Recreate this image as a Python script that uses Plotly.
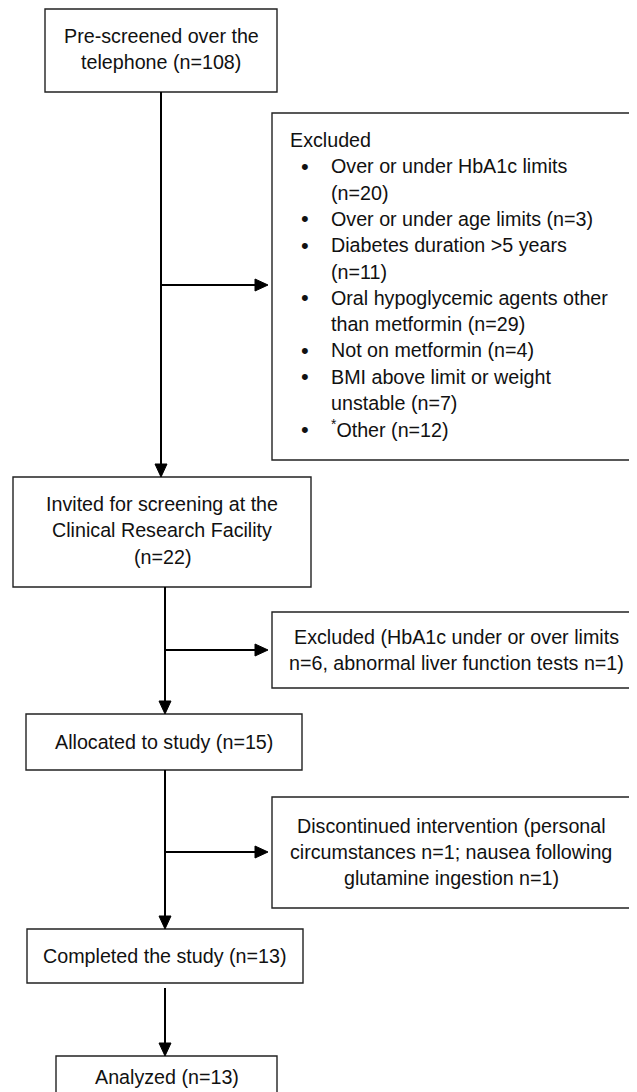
import plotly.graph_objects as go

# ---- data (text content and counts) ----
stage_labels = [
    ["Pre-screened over the", "telephone (n={})"],
    ["Invited for screening at the", "Clinical Research Facility", "(n={})"],
    ["Allocated to study (n={})"],
    ["Completed the study (n={})"],
    ["Analyzed (n={})"],
]
stage_counts = [108, 22, 15, 13, 13]

excl1_header = "Excluded"
excl1_items = [
    ["Over or under HbA1c limits", "(n={})"],
    ["Over or under age limits (n={})"],
    ["Diabetes duration >5 years", "(n={})"],
    ["Oral hypoglycemic agents other", "than metformin (n={})"],
    ["Not on metformin (n={})"],
    ["BMI above limit or weight", "unstable (n={})"],
    ["<sup>*</sup>Other (n={})"],
]
excl1_counts = [20, 3, 11, 29, 4, 7, 12]

excl2_lines = ["Excluded (HbA1c under or over limits", "n={}, abnormal liver function tests n={})"]
excl2_counts = [6, 1]

disc_lines = ["Discontinued intervention (personal", "circumstances n={}; nausea following", "glutamine ingestion n={})"]
disc_counts = [1, 1]

# ---- layout geometry (screen pixels, y downwards) ----
W, H = 637, 1092
OFF = 8  # page body margin
stage_boxes = [  # x0, x1, y0, y1
    (45, 277, 9, 92),
    (13, 311, 477, 587),
    (26, 302, 714, 770),
    (27, 303, 929, 983),
    (56, 277, 1056, 1110),
]
stage_text_y = [[36, 62], [504, 530, 557], [742], [956], [1077]]
excl1_box = (272, 636, 113, 460)
excl2_box = (272, 635, 612, 688)
disc_box = (272, 635, 797, 908)

FONT = dict(family="Liberation Sans, Arial, sans-serif", size=19.7, color="#111111")
LINE = 26.3

fig = go.Figure()
shapes = []
annots = []


def add_box(b):
    x0, x1, y0, y1 = b
    shapes.append(dict(type="rect", xref="x", yref="y", x0=x0, x1=x1, y0=y0, y1=y1,
                       line=dict(color="#222222", width=1.4), fillcolor="white", layer="above"))


def add_text(x, y, t, anchor="center", size=None):
    f = dict(FONT)
    if size:
        f["size"] = size
    annots.append(dict(x=x, y=y, xref="x", yref="y", text=t, showarrow=False,
                       xanchor=anchor, yanchor="middle", font=f))


def add_line(x0, y0, x1, y1):
    shapes.append(dict(type="line", xref="x", yref="y", x0=x0, y0=y0, x1=x1, y1=y1,
                       line=dict(color="black", width=2)))


def arrow_down(x, y_tip):
    shapes.append(dict(type="path", xref="x", yref="y",
                       path=f"M {x-6} {y_tip-13} L {x+6} {y_tip-13} L {x} {y_tip} Z",
                       fillcolor="black", line=dict(color="black", width=1)))


def arrow_right(x_tip, y):
    shapes.append(dict(type="path", xref="x", yref="y",
                       path=f"M {x_tip-13} {y-6} L {x_tip-13} {y+6} L {x_tip} {y} Z",
                       fillcolor="black", line=dict(color="black", width=1)))


# stage boxes
for lines, n, b, ys in zip(stage_labels, stage_counts, stage_boxes, stage_text_y):
    add_box(b)
    cx = (b[0] + b[1]) / 2
    for ln, y in zip(lines, ys):
        add_text(cx, y, ln.format(n) if "{}" in ln else ln)

# exclusion box 1 with bullets
add_box(excl1_box)
y = 140
add_text(288, y, excl1_header, "left")
for item, n in zip(excl1_items, excl1_counts):
    for i, ln in enumerate(item):
        y += LINE
        if i == 0:
            add_text(305, y, "•", "center", size=22)
        add_text(329, y, ln.format(n) if "{}" in ln else ln, "left")

# exclusion box 2
add_box(excl2_box)
add_text(456, 637, excl2_lines[0])
add_text(456, 663, excl2_lines[1].format(*excl2_counts))

# discontinued box
add_box(disc_box)
add_text(451, 826, disc_lines[0])
add_text(451, 852, disc_lines[1].format(disc_counts[0]))
add_text(451, 878, disc_lines[2].format(disc_counts[1]))

# connectors
add_line(161, 92, 161, 466)
arrow_down(161, 477)
add_line(161, 285, 256, 285)
arrow_right(268, 285)

add_line(165, 587, 165, 703)
arrow_down(165, 714)
add_line(165, 650, 256, 650)
arrow_right(268, 650)

add_line(165, 770, 165, 918)
arrow_down(165, 929)
add_line(165, 852, 256, 852)
arrow_right(268, 852)

add_line(165, 988, 165, 1045)
arrow_down(165, 1056)

fig.update_layout(
    width=W - OFF, height=H - OFF,
    margin=dict(l=0, r=0, t=0, b=0),
    paper_bgcolor="white", plot_bgcolor="white",
    xaxis=dict(range=[OFF, W], visible=False, fixedrange=True),
    yaxis=dict(range=[H, OFF], visible=False, fixedrange=True),
    shapes=shapes, annotations=annots, showlegend=False,
)

fig.write_html("out.html")
